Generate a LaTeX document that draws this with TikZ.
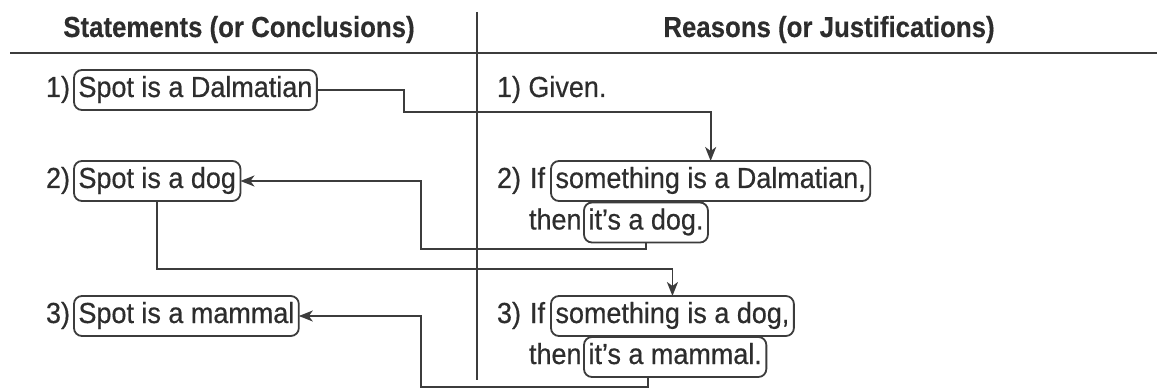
\documentclass[tikz,border=0pt]{standalone}
\usepackage{fontspec}
\setmainfont{Liberation Sans}[FakeStretch=0.93, FakeBold=0.5, BoldFeatures={FakeStretch=0.89, FakeBold=0.3}]
\usetikzlibrary{arrows.meta}
\definecolor{ink}{RGB}{45,45,45}
\definecolor{rule}{RGB}{60,60,60}
\tikzset{
  txt/.style={inner sep=0pt, outer sep=0pt, text=ink, font=\fontsize{29}{32}\selectfont},
  hd/.style={txt, anchor=base, font=\bfseries\fontsize{29}{32}\selectfont},
  pill/.style={txt, anchor=base west, draw=rule, line width=1.8pt, rounded corners=8pt,
    inner xsep=4.5pt, inner ysep=7pt, text height=20pt, text depth=6pt},
  link/.style={draw=rule, line width=1.8pt},
  arr/.style={link, -{Stealth[length=14pt,width=11pt,inset=4pt]}}
}
\begin{document}
\begin{tikzpicture}[x=1pt,y=-1pt]
\useasboundingbox (0,0) rectangle (1157,390);

% table frame
\draw[rule, line width=2.6pt] (10,53) -- (1157,53);
\draw[rule, line width=1.6pt] (477,12) -- (477,380);

% column headings
\node[hd] (hl) at (239,37) {Statements (or Conclusions)};
\node[hd] (hr) at (829,37) {Reasons (or Justifications)};

% statements
\node[txt, anchor=base east] (n1) at (70,97) {1)};
\node[pill] (dal) at (74,97) {Spot is a Dalmatian};
\node[txt, anchor=base east] (n2) at (70,188) {2)};
\node[pill] (spotdog) at (74,188) {Spot is a dog};
\node[txt, anchor=base east] (n3) at (70,323) {3)};
\node[pill] (spotmam) at (74,323) {Spot is a mammal};

% reasons
\node[txt, anchor=base west] (r1) at (497,97) {1) Given.};
\node[txt, anchor=base west] (r2) at (497,188) {2)};
\node[txt, anchor=base west] (if2) at (530,188) {If};
\node[pill] (sdal) at (551,188) {something is a Dalmatian,};
\node[txt, anchor=base west] (then2) at (529,229.5) {then};
\node[pill] (itdog) at (584,229.5) {it’s a dog.};
\node[txt, anchor=base west] (r3) at (497,323) {3)};
\node[txt, anchor=base west] (if3) at (530,323) {If};
\node[pill] (sdog) at (551,323) {something is a dog,};
\node[txt, anchor=base west] (then3) at (529,364) {then};
\node[pill] (itmam) at (584,364) {it’s a mammal.};

% routing points
\coordinate (k1) at (404,112);
\coordinate (k3) at (421,249);
\coordinate (k4) at (0,269);
\coordinate (k5) at (421,387);
\coordinate (v1) at (648,0);

% connectors
\draw[arr] (dal.east) -| (k1) -| (sdal.north);
\draw[arr] (itdog.south) |- (k3) |- (spotdog.east);
\draw[arr] (spotdog.south) -- (spotdog.south |- k4) -| (sdog.north);
\draw[arr] (itmam.south -| v1) |- (k5) |- (spotmam.east);
\end{tikzpicture}
\end{document}
